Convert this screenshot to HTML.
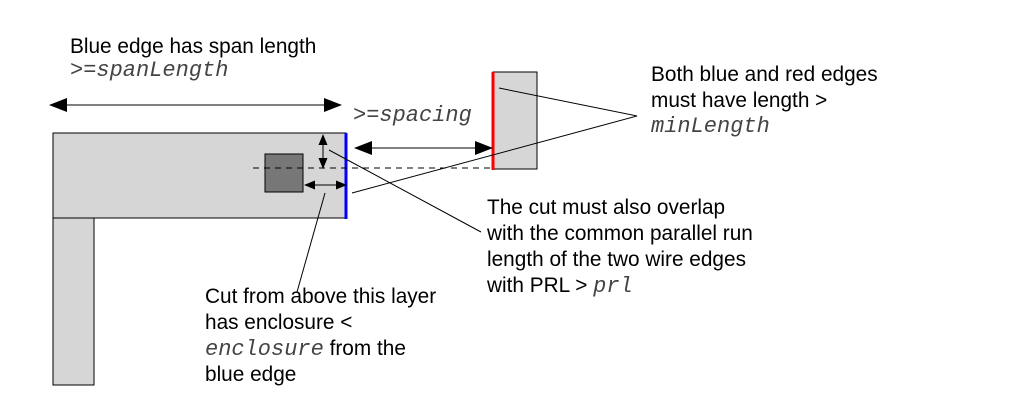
<!DOCTYPE html>
<html><head><meta charset="utf-8"><style>
html,body{margin:0;padding:0;background:#fff;}
svg text{font-family:"Liberation Sans",sans-serif;font-size:20.8px;fill:#000;}
svg text .m{font-family:"Liberation Mono",monospace;font-style:italic;font-size:22px;fill:#444;}
</style></head><body>
<svg width="1012" height="407" viewBox="0 0 1012 407" xmlns="http://www.w3.org/2000/svg">
<defs>
<marker id="ah" markerWidth="18" markerHeight="14" refX="17" refY="7" orient="auto-start-reverse" markerUnits="userSpaceOnUse">
<path d="M0,0 L18,7 L0,14 Z" fill="#000"/></marker>
<marker id="as" markerWidth="11" markerHeight="9" refX="10" refY="4.5" orient="auto-start-reverse" markerUnits="userSpaceOnUse">
<path d="M0,0 L11,4.5 L0,9 Z" fill="#000"/></marker>
</defs>
<rect x="53" y="218" width="41" height="167" fill="#d6d6d6" stroke="#000" stroke-width="1"/>
<rect x="53" y="133" width="293" height="85" fill="#d6d6d6" stroke="#000" stroke-width="1"/>
<rect x="493" y="72" width="44" height="97" fill="#d6d6d6" stroke="#000" stroke-width="1"/>
<rect x="265" y="154" width="38" height="38" fill="#777" stroke="#000" stroke-width="1"/>
<line x1="346" y1="133" x2="346" y2="219" stroke="#0000ff" stroke-width="3"/>
<line x1="493" y1="72" x2="493" y2="170" stroke="#ff0000" stroke-width="3"/>
<line x1="253" y1="168" x2="491" y2="168" stroke="#000" stroke-dasharray="6,5"/>
<line x1="50" y1="105" x2="341" y2="105" stroke="#000" marker-start="url(#ah)" marker-end="url(#ah)"/>
<line x1="355" y1="148" x2="492" y2="148" stroke="#000" marker-start="url(#ah)" marker-end="url(#ah)"/>
<line x1="323" y1="135" x2="323" y2="168" stroke="#000" marker-start="url(#as)" marker-end="url(#as)"/>
<line x1="305" y1="185" x2="346" y2="185" stroke="#000" marker-start="url(#as)" marker-end="url(#as)"/>
<g stroke="#000" stroke-width="1" fill="none">
<polyline points="499,88 637,116 352,193"/>
<line x1="329" y1="150" x2="481" y2="232"/>
<line x1="325" y1="193" x2="297" y2="292"/>
</g>
<text x="70" y="53">Blue edge has span length</text>
<text x="70" y="76"><tspan class="m">&gt;=spanLength</tspan></text>
<text x="353" y="121"><tspan class="m">&gt;=spacing</tspan></text>
<text x="651" y="81">Both blue and red edges</text>
<text x="651" y="107">must have length &gt;</text>
<text x="651" y="132"><tspan class="m">minLength</tspan></text>
<text x="487" y="214">The cut must also overlap</text>
<text x="487" y="240">with the common parallel run</text>
<text x="487" y="266">length of the two wire edges</text>
<text x="487" y="292">with PRL &gt; <tspan class="m">prl</tspan></text>
<text x="205" y="303">Cut from above this layer</text>
<text x="205" y="329">has enclosure &lt;</text>
<text x="205" y="355"><tspan class="m">enclosure</tspan> from the</text>
<text x="205" y="381">blue edge</text>
</svg>
</body></html>
